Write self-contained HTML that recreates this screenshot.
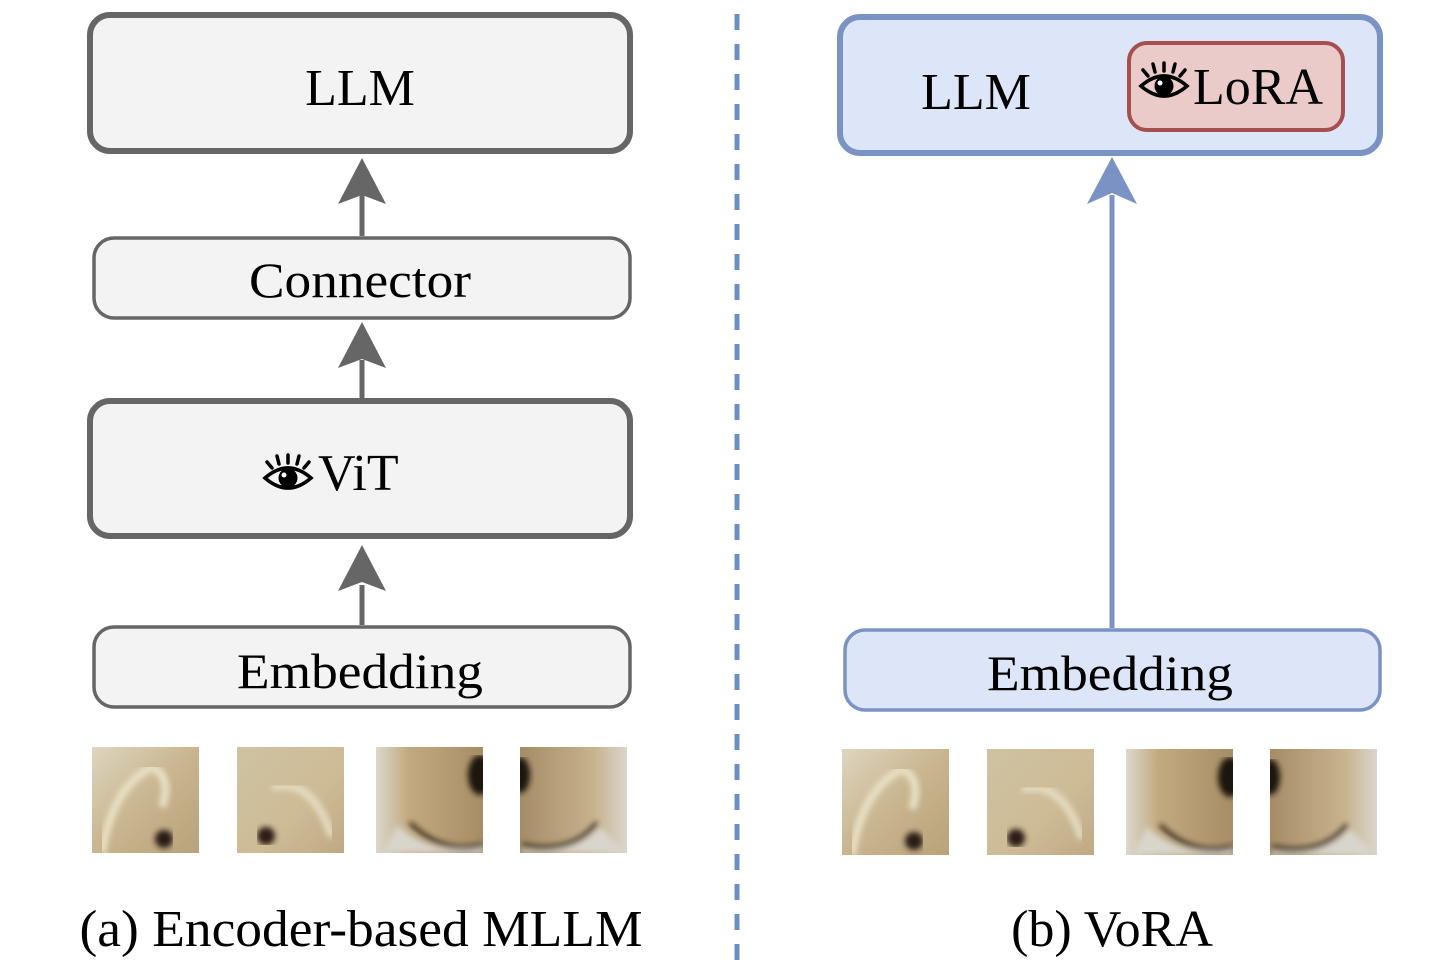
<!DOCTYPE html>
<html><head><meta charset="utf-8"><style>
html,body{margin:0;padding:0;background:#fff;}
svg{display:block;}
text{font-family:"Liberation Serif",serif;fill:#000;}
</style></head><body>
<svg width="1456" height="979" viewBox="0 0 1456 979" xmlns="http://www.w3.org/2000/svg">
<defs>
  <g id="eye">
    <path d="M2 22 Q25 2 48 22 Q25 42 2 22 Z" fill="none" stroke="#000" stroke-width="3.5"/>
    <circle cx="25" cy="22" r="9.5" fill="#000"/>
    <circle cx="21" cy="19" r="2.5" fill="#fff"/>
    <line x1="4" y1="6" x2="9" y2="12" stroke="#000" stroke-width="3.5" stroke-linecap="round"/>
    <line x1="14" y1="0" x2="16" y2="8" stroke="#000" stroke-width="3.5" stroke-linecap="round"/>
    <line x1="25" y1="-1" x2="25" y2="7" stroke="#000" stroke-width="3.5" stroke-linecap="round"/>
    <line x1="36" y1="0" x2="34" y2="8" stroke="#000" stroke-width="3.5" stroke-linecap="round"/>
    <line x1="46" y1="6" x2="41" y2="12" stroke="#000" stroke-width="3.5" stroke-linecap="round"/>
  </g>
  <filter id="bl" x="0" y="0" width="1" height="1"><feGaussianBlur stdDeviation="3"/></filter>
  <clipPath id="c1"><rect x="0" y="0" width="107" height="106"/></clipPath>
  <clipPath id="c2"><rect x="145" y="0" width="107" height="106"/></clipPath>
  <clipPath id="c3"><rect x="284" y="0" width="107" height="106"/></clipPath>
  <clipPath id="c4"><rect x="428" y="0" width="107" height="106"/></clipPath>
  <linearGradient id="g1" x1="0" y1="0" x2="1" y2="1"><stop offset="0" stop-color="#ddd6c0"/><stop offset="0.5" stop-color="#c9b58e"/><stop offset="1" stop-color="#b8a27a"/></linearGradient>
  <linearGradient id="g2" x1="0" y1="0" x2="1" y2="1"><stop offset="0" stop-color="#cfc3a3"/><stop offset="0.6" stop-color="#cdbb95"/><stop offset="1" stop-color="#bfa983"/></linearGradient>
  <linearGradient id="g3" x1="0" y1="0" x2="1" y2="0"><stop offset="0" stop-color="#dcd8cc"/><stop offset="0.3" stop-color="#c2aa80"/><stop offset="1" stop-color="#a78d66"/></linearGradient>
  <linearGradient id="g4" x1="0" y1="0" x2="1" y2="0"><stop offset="0" stop-color="#a58c66"/><stop offset="0.7" stop-color="#c8b38e"/><stop offset="1" stop-color="#dad6cc"/></linearGradient>
  <g id="imgs">
    <g clip-path="url(#c1)">
      <rect x="0" y="0" width="107" height="106" fill="url(#g1)"/>
      <g filter="url(#bl)"><path d="M10 106 Q20 40 60 20 Q80 30 70 60" fill="none" stroke="#e8e0c4" stroke-width="8"/>
      <circle cx="72" cy="92" r="9" fill="#2a1c12"/></g>
    </g>
    <g clip-path="url(#c2)">
      <rect x="145" y="0" width="107" height="106" fill="url(#g2)"/>
      <g filter="url(#bl)"><path d="M180 40 Q220 30 240 90" fill="none" stroke="#e4dac0" stroke-width="8"/>
      <circle cx="174" cy="89" r="9" fill="#2d1e12"/></g>
    </g>
    <g clip-path="url(#c3)">
      <rect x="284" y="0" width="107" height="106" fill="url(#g3)"/>
      <g filter="url(#bl)"><ellipse cx="388" cy="28" rx="12" ry="20" fill="#1e140c"/>
      <path d="M290 106 L305 78 Q340 110 391 100 L391 106 Z" fill="#d8d5cc"/>
      <path d="M318 76 Q350 108 391 98" fill="none" stroke="#2e2016" stroke-width="4"/></g>
    </g>
    <g clip-path="url(#c4)">
      <rect x="428" y="0" width="107" height="106" fill="url(#g4)"/>
      <g filter="url(#bl)"><ellipse cx="428" cy="28" rx="10" ry="18" fill="#1e140c"/>
      <path d="M430 102 Q480 110 508 80 L535 106 L430 106 Z" fill="#d8d5cc"/>
      <path d="M430 98 Q480 108 505 76" fill="none" stroke="#2e2016" stroke-width="4"/></g>
    </g>
  </g>
</defs>

<rect x="90" y="15" width="540" height="136" rx="20" fill="#f3f3f3" stroke="#666" stroke-width="6"/>
<text x="360" y="105" font-size="52" text-anchor="middle">LLM</text>

<rect x="94" y="238" width="536" height="80" rx="20" fill="#f3f3f3" stroke="#666" stroke-width="3.5"/>
<text x="360" y="297" font-size="50" text-anchor="middle" textLength="222" lengthAdjust="spacingAndGlyphs">Connector</text>

<rect x="90" y="401" width="540" height="135" rx="20" fill="#f3f3f3" stroke="#666" stroke-width="6"/>
<use href="#eye" x="263" y="456"/>
<text x="318" y="490" font-size="52">ViT</text>

<rect x="94" y="627" width="536" height="80" rx="20" fill="#f3f3f3" stroke="#666" stroke-width="3.5"/>
<text x="360" y="688" font-size="50" text-anchor="middle" textLength="246" lengthAdjust="spacingAndGlyphs">Embedding</text>

<g fill="#666" stroke="#666">
  <line x1="362" y1="236" x2="362" y2="195" stroke-width="5"/>
  <path d="M362 158 L386 204 L362 195 L338 204 Z" stroke="none"/>
  <line x1="362" y1="398" x2="362" y2="360" stroke-width="5"/>
  <path d="M362 322 L386 368 L362 359 L338 368 Z" stroke="none"/>
  <line x1="362" y1="625" x2="362" y2="585" stroke-width="5"/>
  <path d="M362 545 L386 591 L362 582 L338 591 Z" stroke="none"/>
</g>

<use href="#imgs" x="92" y="747"/>
<text x="361" y="946" font-size="52" text-anchor="middle" textLength="563" lengthAdjust="spacingAndGlyphs">(a) Encoder-based MLLM</text>

<line x1="737" y1="14" x2="737" y2="965" stroke="#6f8cc4" stroke-width="5" stroke-dasharray="16 14"/>

<rect x="840" y="17" width="540" height="136" rx="20" fill="#dce6f8" stroke="#7b93c4" stroke-width="6"/>
<text x="976" y="109" font-size="52" text-anchor="middle">LLM</text>
<rect x="1129" y="43" width="214" height="87" rx="18" fill="#ebcbc9" stroke="#a5504e" stroke-width="4"/>
<use href="#eye" x="1139" y="64"/>
<text x="1193" y="104" font-size="52">LoRA</text>

<rect x="845" y="630" width="535" height="80" rx="20" fill="#dce6f8" stroke="#7b93c4" stroke-width="3.5"/>
<text x="1110" y="690" font-size="50" text-anchor="middle" textLength="246" lengthAdjust="spacingAndGlyphs">Embedding</text>

<g fill="#7b93c4" stroke="#7b93c4">
  <line x1="1112" y1="628" x2="1112" y2="195" stroke-width="5"/>
  <path d="M1112 157 L1137 204 L1112 193 L1087 204 Z" stroke="none"/>
</g>

<use href="#imgs" x="842" y="749"/>
<text x="1112" y="946" font-size="52" text-anchor="middle">(b) VoRA</text>
</svg>
</body></html>
